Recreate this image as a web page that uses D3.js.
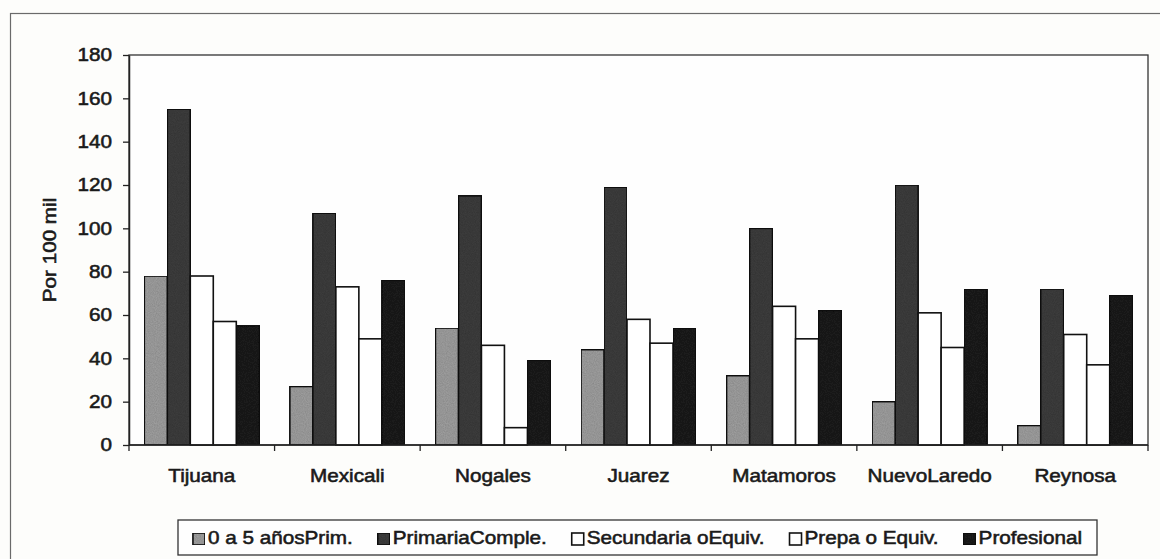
<!DOCTYPE html>
<html>
<head>
<meta charset="utf-8">
<script src="https://cdn.jsdelivr.net/npm/d3@7"></script>
<style>
  html, body { margin: 0; padding: 0; background: #fdfdfb; }
  svg { display: block; }
  text { font-family: Arial, "Liberation Sans", sans-serif; fill: #1a1a1a; stroke: #1a1a1a; stroke-width: 0.55px; }
</style>
</head>
<body>
<svg id="chart" width="1160" height="559"></svg>
<script>
// Tasa por 100 mil habitantes, por ciudad fronteriza y nivel educativo
const cities = ["Tijuana", "Mexicali", "Nogales", "Juarez", "Matamoros", "NuevoLaredo", "Reynosa"];
const seriesNames = ["0 a 5 añosPrim.", "PrimariaComple.", "Secundaria oEquiv.", "Prepa o Equiv.", "Profesional"];
const prim0a5      = [78, 27, 54, 44, 32, 20, 9];
const primaria     = [155, 107, 115, 119, 100, 120, 72];
const secundaria   = [78, 73, 46, 58, 64, 61, 51];
const prepa        = [57, 49, 8, 47, 49, 45, 37];
const profesional  = [55, 76, 39, 54, 62, 72, 69];
const yTicks = [0, 20, 40, 60, 80, 100, 120, 140, 160, 180];
const yLabel = "Por 100 mil";

const seriesValues = [prim0a5, primaria, secundaria, prepa, profesional];
const fills = ["#a2a2a2", "#3e3e3e", "#ffffff", "#ffffff", "#1c1c1c"];

const svg = d3.select("#chart");
const W = 1160, H = 559;
const plot = { left: 129, right: 1148, top: 55, bottom: 445 };
const sx = 1.15;      // horizontal stretch of the lettering
const fs = 18;

// grain for the filled bars
const defs = svg.append("defs");
const grain = defs.append("filter").attr("id", "grain").attr("x", 0).attr("y", 0).attr("width", 1).attr("height", 1);
grain.append("feTurbulence").attr("type", "fractalNoise").attr("baseFrequency", 0.9).attr("numOctaves", 2).attr("seed", 3).attr("result", "noise");
grain.append("feColorMatrix").attr("in", "noise").attr("type", "matrix")
  .attr("values", "0 0 0 0 0  0 0 0 0 0  0 0 0 0 0  0 0 0 0.35 0").attr("result", "dark");
grain.append("feComposite").attr("in", "dark").attr("in2", "SourceGraphic").attr("operator", "atop");

// outer frame (extends past the right and bottom edges)
svg.append("rect")
  .attr("x", 10.5).attr("y", 13.5).attr("width", W + 20).attr("height", H + 20)
  .attr("fill", "none").attr("stroke", "#6a6a6a").attr("stroke-width", 1.2);

const x0 = d3.scaleBand().domain(cities).range([plot.left, plot.right]).paddingInner(0.21).paddingOuter(0.105);
const x1 = d3.scaleBand().domain(d3.range(seriesNames.length)).range([0, x0.bandwidth()]);
const y = d3.scaleLinear().domain([0, 180]).range([plot.bottom, plot.top]);

// plot area border
svg.append("rect")
  .attr("x", plot.left).attr("y", plot.top)
  .attr("width", plot.right - plot.left).attr("height", plot.bottom - plot.top)
  .attr("fill", "#fefefe").attr("stroke", "#333").attr("stroke-width", 1.3);

// bars
const groups = svg.append("g").selectAll("g")
  .data(cities)
  .join("g")
  .attr("transform", d => `translate(${x0(d)},0)`);

groups.selectAll("rect")
  .data((c, ci) => seriesValues.map((vals, si) => ({ si, v: vals[ci] })))
  .join("rect")
  .attr("x", d => x1(d.si))
  .attr("y", d => y(d.v))
  .attr("width", x1.bandwidth())
  .attr("height", d => y(0) - y(d.v))
  .attr("fill", d => fills[d.si])
  .attr("filter", d => (d.si === 2 || d.si === 3) ? null : "url(#grain)")
  .attr("stroke", "#111")
  .attr("stroke-width", 1.6);

// y axis
const yAxis = svg.append("g")
  .attr("transform", `translate(${plot.left},0)`)
  .call(d3.axisLeft(y).tickValues(yTicks).tickSize(6).tickPadding(11).tickSizeOuter(0));
yAxis.select(".domain").attr("stroke", "#222").attr("stroke-width", 1.5);
yAxis.selectAll(".tick line").attr("stroke", "#222").attr("stroke-width", 1.3);
yAxis.selectAll(".tick text")
  .attr("font-size", fs)
  .attr("font-family", null)
  .attr("x", -17 / sx)
  .attr("transform", `scale(${sx},1)`)
  .style("fill", "#1a1a1a");

// x axis with ticks between categories
const xAxisG = svg.append("g");
xAxisG.append("line")
  .attr("x1", plot.left).attr("x2", plot.right)
  .attr("y1", plot.bottom).attr("y2", plot.bottom)
  .attr("stroke", "#222").attr("stroke-width", 1.5);
const boundaries = cities.map(c => x0(c) - x0.step() * x0.paddingInner() / 2).concat([plot.right]);
xAxisG.selectAll("line.tk")
  .data(boundaries)
  .join("line")
  .attr("class", "tk")
  .attr("x1", d => d).attr("x2", d => d)
  .attr("y1", plot.bottom).attr("y2", plot.bottom + 6)
  .attr("stroke", "#222").attr("stroke-width", 1.3);

xAxisG.selectAll("g.lbl")
  .data(cities)
  .join("g")
  .attr("class", "lbl")
  .attr("transform", d => `translate(${x0(d) + x0.bandwidth() / 2},482) scale(${sx},1)`)
  .append("text")
  .attr("text-anchor", "middle")
  .attr("font-size", fs)
  .text(d => d);

// y axis title
svg.append("g")
  .attr("transform", `translate(56,${(plot.top + plot.bottom) / 2}) rotate(-90) scale(${sx},1)`)
  .append("text")
  .attr("text-anchor", "middle")
  .attr("font-size", fs)
  .text(yLabel);

// legend
const legBox = { x: 178, y: 520, w: 919, h: 35 };
svg.append("rect")
  .attr("x", legBox.x).attr("y", legBox.y).attr("width", legBox.w).attr("height", legBox.h)
  .attr("fill", "#fefefe").attr("stroke", "#333").attr("stroke-width", 1.3);

const legend = svg.append("g");
const items = legend.selectAll("g")
  .data(seriesNames)
  .join("g");
items.append("rect")
  .attr("width", 12).attr("height", 12).attr("y", -11)
  .attr("fill", (d, i) => fills[i])
  .attr("filter", (d, i) => (i === 2 || i === 3) ? null : "url(#grain)")
  .attr("stroke", "#111").attr("stroke-width", 1.6);
items.append("text")
  .attr("font-size", fs)
  .attr("transform", `translate(15,0) scale(${sx},1)`)
  .text(d => d);

let cursor = 0;
const gap = 25;
items.each(function () {
  const g = d3.select(this);
  const tw = g.select("text").node().getComputedTextLength() * sx;
  g.attr("data-x", cursor);
  cursor += 15 + tw + gap;
});
const totalW = cursor - gap;
const startX = legBox.x + (legBox.w - totalW) / 2;
items.attr("transform", function () {
  return `translate(${startX + (+this.getAttribute("data-x"))},${legBox.y + 24})`;
});
</script>
</body>
</html>
